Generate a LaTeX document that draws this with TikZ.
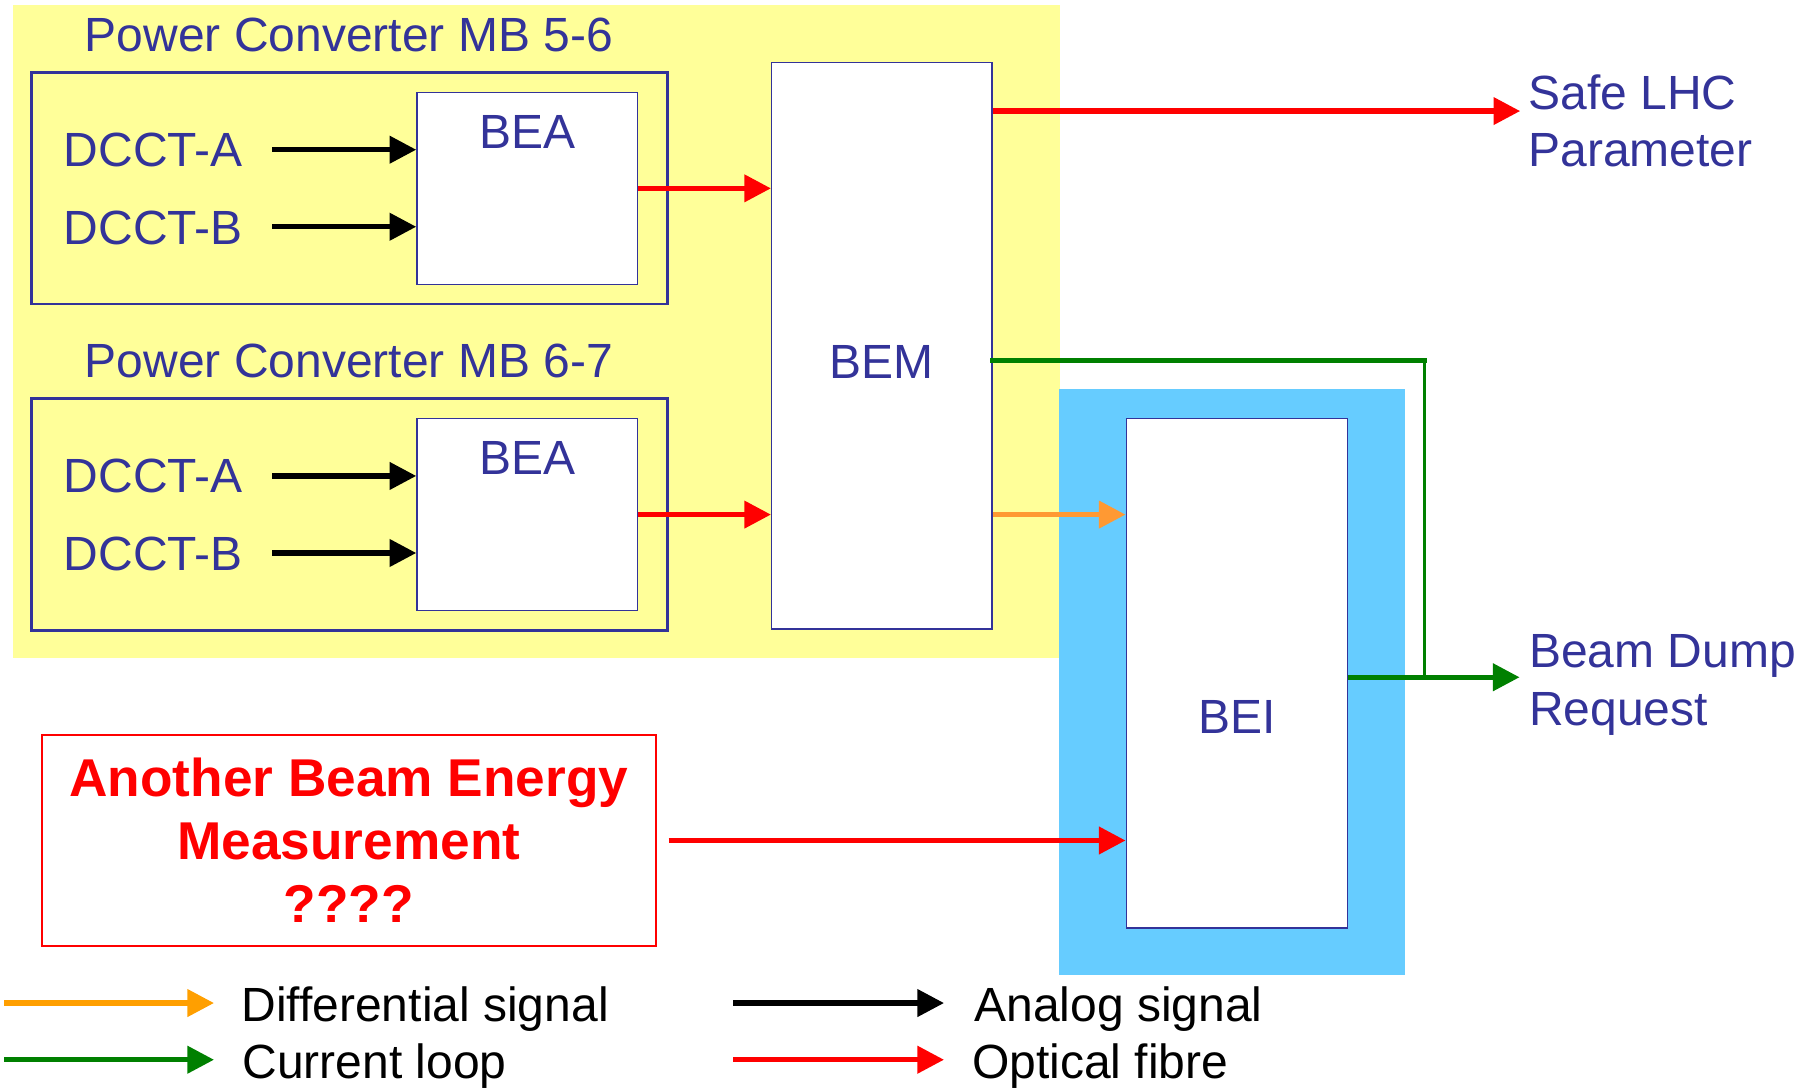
\documentclass[tikz,border=0pt]{standalone}
\usepackage{fontspec}
\setmainfont{Liberation Sans}
\usetikzlibrary{arrows.meta,calc}
\definecolor{txtblue}{HTML}{333399}
\definecolor{bgyellow}{HTML}{FFFF99}
\definecolor{bgblue}{HTML}{66CCFF}
\definecolor{lgreen}{HTML}{008000}
\definecolor{lorange}{HTML}{FF9933}
\definecolor{legorange}{HTML}{FF9F00}
\definecolor{lred}{HTML}{FF0000}
\tikzset{
  lbl/.style={inner sep=0pt, font=\fontsize{41.5}{49}\selectfont, text=txtblue},
  leglbl/.style={inner sep=0pt, font=\fontsize{41.5}{49}\selectfont, text=black},
  pcbox/.style={draw=txtblue, line width=2.5pt, inner sep=0pt},
  unit/.style={draw=txtblue, fill=white, line width=1.2pt, inner sep=0pt},
  tip/.style={-{Triangle[length=23pt,width=23pt]}},
  analog/.style={tip, draw=black, line width=4.5pt},
  optical/.style={tip, draw=lred, line width=4.5pt},
  diffsig/.style={tip, draw=lorange, line width=4.5pt},
  curloop/.style={draw=lgreen, line width=4.5pt},
}
\begin{document}
\begin{tikzpicture}[x=1pt,y=-1pt]
\useasboundingbox (0,0) rectangle (1568,940);
% backgrounds
\fill[bgyellow] (11.6,4.3) rectangle (916,568.5);
\fill[bgblue] (915.5,336) rectangle (1214.5,842.6);

% group 1
\node[lbl, anchor=base west] (t1) at (73,44.7) {Power Converter MB 5-6};
\node[pcbox, minimum width=549.7pt, minimum height=200pt] (pc1) at (301.85,162.8) {};
\node[unit, minimum width=190.6pt, minimum height=166pt] (bea1) at (455.7,162.8) {};
\node[lbl, anchor=base] (bea1t) at (455.7,128.5) {BEA};
\node[lbl, anchor=base west] (d1a) at (55,144) {DCCT-A};
\node[lbl, anchor=base west] (d1b) at (55,211) {DCCT-B};
\coordinate (a1s) at (235.3,129.4);
\coordinate (b1s) at (235.3,196);
\draw[analog] (a1s) -- (bea1.west |- a1s);
\draw[analog] (b1s) -- (bea1.west |- b1s);

% group 2
\node[lbl, anchor=base west] (t2) at (73,326.7) {Power Converter MB 6-7};
\node[pcbox, minimum width=549.7pt, minimum height=200pt] (pc2) at (301.85,444.8) {};
\node[unit, minimum width=190.6pt, minimum height=166pt] (bea2) at (455.7,444.8) {};
\node[lbl, anchor=base] (bea2t) at (455.7,410.5) {BEA};
\node[lbl, anchor=base west] (d2a) at (55,426) {DCCT-A};
\node[lbl, anchor=base west] (d2b) at (55,493) {DCCT-B};
\coordinate (a2s) at (235.3,411.4);
\coordinate (b2s) at (235.3,478);
\draw[analog] (a2s) -- (bea2.west |- a2s);
\draw[analog] (b2s) -- (bea2.west |- b2s);

% BEM
\node[unit, minimum width=190.5pt, minimum height=489.5pt] (bem) at (762.25,298.95) {};
\node[lbl, anchor=base] (bemt) at (762.25,327.5) {BEM};
\draw[optical] (bea1.east) -- (bem.west |- bea1.east);
\draw[optical] (bea2.east) -- (bem.west |- bea2.east);

% BEI
\node[unit, minimum width=191.5pt, minimum height=440.5pt] (bei) at (1069.25,581.75) {};
\node[lbl, anchor=base] (beit) at (1069.25,634) {BEI};

% outputs
\coordinate (safeIn) at (1314,96);
\draw[optical] (bem.east |- safeIn) -- (safeIn);
\node[lbl, anchor=base west] (safe1) at (1321,95) {Safe LHC};
\node[lbl, anchor=base west] (safe2) at (1321,144) {Parameter};

\coordinate (gTurn) at (1231.4,311.8);
\coordinate (gJoin) at (1231.4,585.4);
\coordinate (dumpIn) at (1313.5,585.4);
\draw[curloop, line cap=rect] (bem.east |- gTurn) -- (gTurn);
\draw[draw=lgreen, line width=3pt] (gTurn) -- (gJoin);
\draw[curloop, tip] (bei.east |- gJoin) -- (dumpIn);
\node[lbl, anchor=base west] (dump1) at (1321.5,577) {Beam Dump};
\node[lbl, anchor=base west] (dump2) at (1321.5,627) {Request};

\draw[diffsig] (bem.east |- bea2.east) -- (bei.west |- bea2.east);

% other measurement
\node[draw=lred, line width=1.8pt, minimum width=531pt, minimum height=183pt,
      align=center, text=lred, font=\fontsize{46}{54.5}\selectfont\bfseries]
      (other) at (301.5,726.5) {Another Beam Energy\\Measurement\\????};
\draw[optical] ([xshift=10pt]other.east) -- (bei.west |- other.east);

% legend
\coordinate (l1s) at (3.5,867); \coordinate (l1e) at (185,867);
\coordinate (l2s) at (3.5,916); \coordinate (l2e) at (185,916);
\coordinate (l3s) at (634,867); \coordinate (l3e) at (816,867);
\coordinate (l4s) at (634,916); \coordinate (l4e) at (816,916);
\draw[tip, draw=legorange, line width=4.5pt] (l1s) -- (l1e);
\draw[curloop, tip] (l2s) -- (l2e);
\draw[analog] (l3s) -- (l3e);
\draw[optical] (l4s) -- (l4e);
\node[leglbl, anchor=base west] (lg1) at (208.5,883) {Differential signal};
\node[leglbl, anchor=base west] (lg2) at (209.4,932) {Current loop};
\node[leglbl, anchor=base west] (lg3) at (842,883) {Analog signal};
\node[leglbl, anchor=base west] (lg4) at (840,932) {Optical fibre};
\end{tikzpicture}
\end{document}
